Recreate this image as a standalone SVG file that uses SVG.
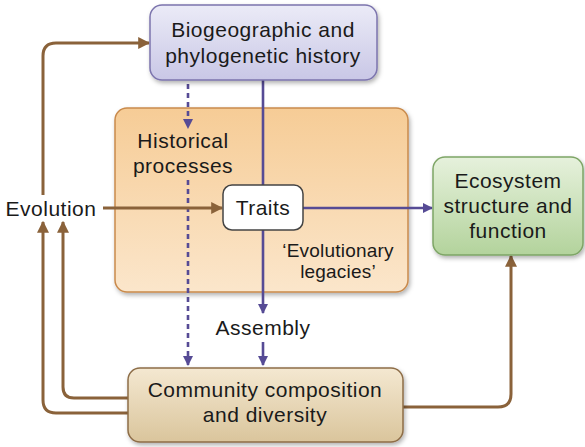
<svg xmlns="http://www.w3.org/2000/svg" width="585" height="447" viewBox="0 0 585 447">
<defs>
<linearGradient id="gTop" x1="0" y1="0" x2="0" y2="1"><stop offset="0" stop-color="#ebebf7"/><stop offset="1" stop-color="#c9c7e6"/></linearGradient>
<linearGradient id="gOr" x1="0" y1="0" x2="0" y2="1"><stop offset="0" stop-color="#f6cc96"/><stop offset="1" stop-color="#fbe6cb"/></linearGradient>
<linearGradient id="gGr" x1="0" y1="0" x2="0" y2="1"><stop offset="0" stop-color="#e6f1dc"/><stop offset="1" stop-color="#b3d39c"/></linearGradient>
<linearGradient id="gCo" x1="0" y1="0" x2="0" y2="1"><stop offset="0" stop-color="#f4e8d1"/><stop offset="1" stop-color="#dac59c"/></linearGradient>
<filter id="sh" x="-10%" y="-10%" width="130%" height="140%"><feDropShadow dx="1.5" dy="2.5" stdDeviation="2" flood-color="#000" flood-opacity="0.3"/></filter>
<marker id="aP" viewBox="0 0 10 10" refX="9" refY="5" markerWidth="4" markerHeight="4" orient="auto" markerUnits="strokeWidth"><path d="M0,0 L10,5 L0,10 z" fill="#564b95"/></marker>
<marker id="aB" viewBox="0 0 10 10" refX="9" refY="5" markerWidth="4" markerHeight="4" orient="auto" markerUnits="strokeWidth"><path d="M0,0 L10,5 L0,10 z" fill="#8a623a"/></marker>
</defs>
<style>
text{font-family:"Liberation Sans",Arial,sans-serif;fill:#1a1a1a;text-anchor:middle}
.t{font-size:21px;letter-spacing:0.5px}
.s{font-size:19px;letter-spacing:0.2px}
.p{fill:none;stroke:#564b95;stroke-width:2.6}
.d{fill:none;stroke:#564b95;stroke-width:2.6;stroke-dasharray:5,4}
.b{fill:none;stroke:#8a623a;stroke-width:3}
</style>
<g id="historical-box">
<rect x="115" y="108" width="293" height="184" rx="12" fill="url(#gOr)" stroke="#c98a4c" stroke-width="1.5" filter="url(#sh)"/>
<text class="t" x="183" y="148">Historical</text>
<text class="t" x="183" y="173">processes</text>
<text class="s" x="338" y="257">‘Evolutionary</text>
<text class="s" x="338" y="278">legacies’</text>
</g>
<g id="connectors">
<path class="p" d="M263,80 V185"/>
<path class="p" d="M263,230 V313" marker-end="url(#aP)"/>
<path class="p" d="M263,342 V365" marker-end="url(#aP)"/>
<path class="d" d="M188,84 V128" marker-end="url(#aP)"/>
<path class="d" d="M188,180 V365" marker-end="url(#aP)"/>
<path class="p" d="M303,208 H432" marker-end="url(#aP)"/>
<path class="b" d="M103,208 H222" marker-end="url(#aB)"/>
<path class="b" d="M43,195 V56 Q43,43 56,43 H149" marker-end="url(#aB)"/>
<path class="b" d="M128,413 H56 Q43,413 43,400 V222" marker-end="url(#aB)"/>
<path class="b" d="M128,398 H74 Q63,398 63,387 V222" marker-end="url(#aB)"/>
<path class="b" d="M403,407 H498 Q511,407 511,394 V256" marker-end="url(#aB)"/>
</g>
<g id="biogeographic">
<rect x="150" y="5" width="227" height="75" rx="12" fill="url(#gTop)" stroke="#7c74ad" stroke-width="1.5" filter="url(#sh)"/>
<text class="t" x="263" y="37">Biogeographic and</text>
<text class="t" x="263" y="63">phylogenetic history</text>
</g>
<g id="traits">
<rect x="223" y="185" width="80" height="45" rx="9" fill="#fff" stroke="#444" stroke-width="1.5"/>
<text class="t" x="263" y="215">Traits</text>
</g>
<g id="evolution">
<text class="t" x="51" y="216">Evolution</text>
</g>
<g id="ecosystem">
<rect x="433" y="157" width="150" height="98" rx="12" fill="url(#gGr)" stroke="#7ea566" stroke-width="1.5" filter="url(#sh)"/>
<text class="t" x="508" y="188">Ecosystem</text>
<text class="t" x="508" y="213">structure and</text>
<text class="t" x="508" y="238">function</text>
</g>
<g id="assembly">
<text class="t" x="263" y="335">Assembly</text>
</g>
<g id="community">
<rect x="128" y="368" width="275" height="74" rx="12" fill="url(#gCo)" stroke="#8d6d47" stroke-width="1.5" filter="url(#sh)"/>
<text class="t" x="265" y="397">Community composition</text>
<text class="t" x="265" y="422">and diversity</text>
</g>
</svg>
